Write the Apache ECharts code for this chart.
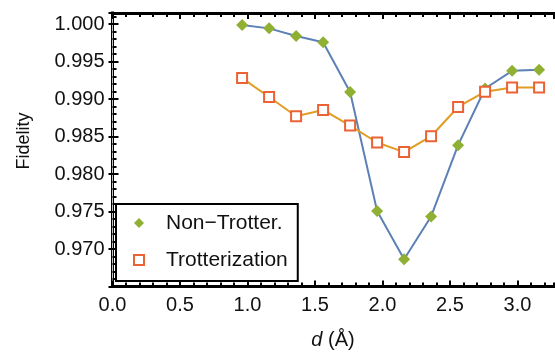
<!DOCTYPE html>
<html>
<head>
<meta charset="utf-8">
<script src="https://cdn.jsdelivr.net/npm/echarts@6/dist/echarts.min.js"></script>
<style>
  html, body { margin: 0; padding: 0; background: #fff; }
  #chart { width: 555px; height: 356px; }
</style>
</head>
<body>
<div id="chart"></div>
<script>
// Bond distance d (Å) and the fidelity of each simulation method
const distances = [0.96, 1.16, 1.36, 1.56, 1.76, 1.96, 2.16, 2.36, 2.56, 2.76, 2.96, 3.16];
const nonTrotter = [0.99987, 0.99942, 0.9984, 0.99757, 0.99093, 0.97508, 0.96863, 0.97434, 0.98385, 0.9914, 0.99376, 0.99389];
const trotterization = [0.99279, 0.99027, 0.9877, 0.98854, 0.98646, 0.9842, 0.98292, 0.98504, 0.98894, 0.99097, 0.99154, 0.99154];
const seriesNames = ['Non\u2212Trotter.', 'Trotterization'];
const xTickLabels = ['0.0', '0.5', '1.0', '1.5', '2.0', '2.5', '3.0'];
const yTickLabels = ['0.970', '0.975', '0.980', '0.985', '0.990', '0.995', '1.000'];

const FONT = 'Liberation Sans';
const BLUE = '#5E81B5', ORANGE = '#E19C24', GREEN = '#8FB032', RED = '#EB6235';
const TICK = '#000';
const X_MIN = 0, X_MAX = 3.2667, Y_MIN = 0.965, Y_MAX = 1.00147;

function pairs(ys) { return distances.map((d, i) => [d, ys[i]]); }
function nearLabel(list, v, digits) {
  const s = v.toFixed(digits);
  return list.indexOf(s) >= 0 ? s : '';
}

// fresh style objects for every axis
function frameLine() { return { show: true, lineStyle: { color: '#000', width: 3, cap: 'square' } }; }
function noLine() { return { show: false }; }
function tick(len) {
  return { show: true, inside: true, length: len, lineStyle: { color: TICK, width: 2 } };
}

function xAxis(position, interval, line, tk, withLabels) {
  return {
    type: 'value', position: position, min: X_MIN, max: X_MAX, interval: interval,
    axisLine: line, axisTick: tk, splitLine: { show: false },
    axisLabel: withLabels ? {
      show: true, margin: 9, fontSize: 20, fontFamily: FONT, color: '#111',
      showMaxLabel: false,
      formatter: v => nearLabel(xTickLabels, v, 1)
    } : { show: false }
  };
}
function yAxis(position, interval, line, tk, withLabels) {
  return {
    type: 'value', position: position, min: Y_MIN, max: Y_MAX, interval: interval,
    axisLine: line, axisTick: tk, splitLine: { show: false },
    axisLabel: withLabels ? {
      show: true, margin: 8, fontSize: 20, fontFamily: FONT, color: '#111',
      showMinLabel: false, showMaxLabel: false,
      formatter: v => nearLabel(yTickLabels, v, 3)
    } : { show: false }
  };
}

// bottom/top frame: major ticks every 0.5, minor every 0.1
const xAxes = [
  Object.assign(xAxis('bottom', 0.5, frameLine(), tick(6), true), {
    name: '{i|d} (Å)', nameLocation: 'middle', nameGap: 44,
    nameTextStyle: {
      fontSize: 20, fontFamily: FONT, color: '#111',
      rich: { i: { fontSize: 20, fontFamily: FONT, fontStyle: 'italic', color: '#111' } }
    }
  }),
  xAxis('bottom', 0.1, noLine(), tick(4), false),
  xAxis('top', 0.5, frameLine(), tick(6), false),
  xAxis('top', 0.1, noLine(), tick(4), false)
];
// left frame: major every 0.005, minor every 0.001; right edge is a light rule
const yAxes = [
  yAxis('left', 0.005, frameLine(), tick(6), true),
  yAxis('left', 0.001, noLine(), tick(4), false),
  yAxis('right', 0.005, { show: true, lineStyle: { color: '#c4c4c4', width: 1 } }, tick(4), false)
];

const chart = echarts.init(document.getElementById('chart'), null, { renderer: 'canvas' });
chart.setOption({
  animation: false,
  backgroundColor: '#fff',
  grid: { left: 112.5, top: 13, width: 441, height: 273.5 },
  xAxis: xAxes,
  yAxis: yAxes,
  legend: {
    left: 116, top: 204, orient: 'vertical',
    backgroundColor: '#fff', borderColor: '#000', borderWidth: 2,
    padding: [8, 10, 10, 17],
    itemWidth: 10, itemHeight: 10, itemGap: 15,
    textStyle: { fontSize: 21, fontFamily: FONT, color: '#111', lineHeight: 22, padding: [0, 0, 0, 17] },
    data: [
      { name: seriesNames[0], icon: 'diamond', itemStyle: { color: GREEN, borderWidth: 0 } },
      { name: seriesNames[1], icon: 'rect', itemStyle: { color: '#fff', borderColor: RED, borderWidth: 2 } }
    ]
  },
  graphic: [{
    type: 'text', x: 24, y: 141, rotation: Math.PI / 2,
    style: { text: 'Fidelity', fontSize: 18, fontFamily: FONT, fill: '#111', align: 'center', verticalAlign: 'middle' }
  }],
  series: [
    {
      name: seriesNames[0], type: 'line', data: pairs(nonTrotter),
      xAxisIndex: 0, yAxisIndex: 0,
      symbol: 'diamond', symbolSize: [12, 12],
      lineStyle: { color: BLUE, width: 2 },
      itemStyle: { color: GREEN, borderWidth: 0 },
      z: 2
    },
    {
      name: seriesNames[1], type: 'line', data: pairs(trotterization),
      xAxisIndex: 0, yAxisIndex: 0,
      symbol: 'rect', symbolSize: 10,
      lineStyle: { color: ORANGE, width: 2 },
      itemStyle: { color: '#fff', borderColor: RED, borderWidth: 2 },
      z: 3
    }
  ]
});
</script>
</body>
</html>
